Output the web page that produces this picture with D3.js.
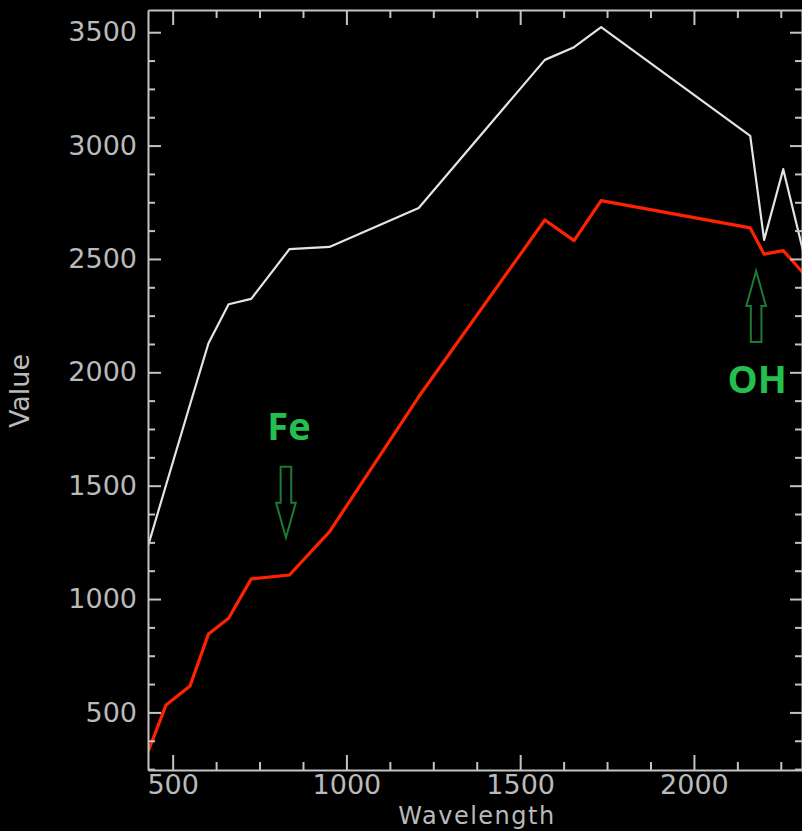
<!DOCTYPE html>
<html>
<head>
<meta charset="utf-8">
<script src="https://cdn.jsdelivr.net/npm/d3@7"></script>
<style>
  html, body { margin: 0; padding: 0; background: #000; overflow: hidden; }
  .axis text { font-family: "DejaVu Sans", sans-serif; fill: #bababa; }
  .axis path, .axis line { stroke: #c4c4c4; stroke-width: 2; }
</style>
</head>
<body>
<div id="chart-container"></div>
<script>
var d3; // Minor workaround to avoid error messages in editors

// Spectra (wavelength in nm, value = DN)
const wavelengths = [430, 481, 550, 603, 661, 726, 836, 951, 1208, 1571, 1655, 1733, 2162, 2202, 2257, 2330];
const whiteValues = [1239, 1503, 1858, 2128, 2300, 2324, 2543, 2553, 2725, 3378, 3434, 3522, 3043, 2584, 2896, 2434];
const redValues = [330, 533, 617, 846, 915, 1089, 1106, 1296, 1892, 2672, 2581, 2757, 2637, 2521, 2537, 2412];

// Tick labels
const xTicks = [500, 1000, 1500, 2000];
const yTicks = [500, 1000, 1500, 2000, 2500, 3000, 3500];

// Absorption features: label, wavelength and value at arrow tip
const featureLabels = ["Fe", "OH"];
const featureWavelengths = [826, 2179];
const featureTipValues = [1270, 2447];
const featureDirections = ["down", "up"];

window.onload = () => {
  const width = 802, height = 831;
  const plot = { left: 148, right: 802, top: 10, bottom: 770 };

  const svg = d3
    .select("#chart-container")
    .append("svg")
    .attr("width", width)
    .attr("height", height)
    .style("background", "#000");

  const x = d3.scaleLinear().domain([429, 2311]).range([plot.left, plot.right]);
  const y = d3.scaleLinear().domain([246, 3598]).range([plot.bottom, plot.top]);

  // minor ticks every 125
  const xMinor = d3.range(375, 2311, 125).filter((v) => v % 500 !== 0 && v > 429);
  const yMinor = d3.range(250, 3598, 125).filter((v) => v % 500 !== 0 && v > 246);

  // clip for the lines
  svg.append("clipPath").attr("id", "plot-clip")
    .append("rect")
    .attr("x", plot.left).attr("y", plot.top)
    .attr("width", plot.right - plot.left).attr("height", plot.bottom - plot.top);

  const line = (vals) =>
    d3.line().x((d, i) => x(wavelengths[i])).y((d) => y(d))(vals);

  const lines = svg.append("g").attr("clip-path", "url(#plot-clip)");
  lines.append("path")
    .attr("d", line(whiteValues))
    .attr("fill", "none")
    .attr("stroke", "#e4e4e4")
    .attr("stroke-width", 2.2)
    .attr("stroke-linejoin", "round");
  lines.append("path")
    .attr("d", line(redValues))
    .attr("fill", "none")
    .attr("stroke", "#ff2200")
    .attr("stroke-width", 3.2)
    .attr("stroke-linejoin", "round");

  // Bottom axis (ticks point inward)
  const bottom = svg.append("g")
    .attr("class", "axis")
    .attr("transform", `translate(0,${plot.bottom})`);
  bottom.call(d3.axisBottom(x).tickValues(xTicks).tickSizeInner(-15).tickSizeOuter(0).tickPadding(5).tickFormat(d3.format("d")));
  bottom.append("g").call(d3.axisBottom(x).tickValues(xMinor).tickSizeInner(-8).tickSizeOuter(0).tickFormat(""))
    .select(".domain").remove();
  bottom.selectAll("text").style("font-size", "27px");

  // Top axis
  const top = svg.append("g")
    .attr("class", "axis")
    .attr("transform", `translate(0,${plot.top})`);
  top.call(d3.axisTop(x).tickValues(xTicks).tickSizeInner(-15).tickSizeOuter(0).tickFormat(""));
  top.append("g").call(d3.axisTop(x).tickValues(xMinor).tickSizeInner(-8).tickSizeOuter(0).tickFormat(""))
    .select(".domain").remove();

  // Left axis
  const left = svg.append("g")
    .attr("class", "axis")
    .attr("transform", `translate(${plot.left},0)`);
  left.call(d3.axisLeft(y).tickValues(yTicks).tickSizeInner(-13).tickSizeOuter(0).tickPadding(11).tickFormat(d3.format("d")));
  left.append("g").call(d3.axisLeft(y).tickValues(yMinor).tickSizeInner(-7).tickSizeOuter(0).tickFormat(""))
    .select(".domain").remove();
  left.selectAll("text").style("font-size", "27px");

  // Right axis
  const right = svg.append("g")
    .attr("class", "axis")
    .attr("transform", `translate(${plot.right},0)`);
  right.call(d3.axisRight(y).tickValues(yTicks).tickSizeInner(-12).tickSizeOuter(0).tickFormat(""));
  right.append("g").call(d3.axisRight(y).tickValues(yMinor).tickSizeInner(-7).tickSizeOuter(0).tickFormat(""))
    .select(".domain").remove();

  // axis titles
  svg.append("text")
    .attr("x", 477).attr("y", 824)
    .attr("text-anchor", "middle")
    .style("font-family", "'DejaVu Sans', sans-serif")
    .style("font-size", "24px")
    .style("letter-spacing", "1.5px")
    .attr("fill", "#bababa")
    .text("Wavelength");

  svg.append("text")
    .attr("transform", "translate(29,391) rotate(-90)")
    .attr("text-anchor", "middle")
    .style("font-family", "'DejaVu Sans', sans-serif")
    .style("font-size", "27px")
    .attr("fill", "#bababa")
    .text("Value");

  // feature arrows + labels
  featureLabels.forEach((label, i) => {
    const cx = x(featureWavelengths[i]);
    const tip = y(featureTipValues[i]);
    const s = featureDirections[i] === "down" ? -1 : 1; // shaft goes opposite the tip
    const shaftW = 5.3, headW = 9.8, headL = 35, total = 71;
    const pts = [
      [cx, tip],
      [cx + headW, tip + s * headL],
      [cx + shaftW, tip + s * headL],
      [cx + shaftW, tip + s * total],
      [cx - shaftW, tip + s * total],
      [cx - shaftW, tip + s * headL],
      [cx - headW, tip + s * headL],
    ];
    svg.append("path")
      .attr("d", d3.line()(pts) + "Z")
      .attr("fill", "none")
      .attr("stroke", "#1d7a33")
      .attr("stroke-width", 2);

    svg.append("text")
      .attr("x", cx + (s < 0 ? 3 : 1))
      .attr("y", s < 0 ? tip - 98 : tip + 122)
      .attr("text-anchor", "middle")
      .style("font-family", "'Open Sans', sans-serif")
      .style("font-weight", 700)
      .style("font-size", "38px")
      .attr("fill", "#24c04f")
      .text(label);
  });
};
</script>
</body>
</html>
